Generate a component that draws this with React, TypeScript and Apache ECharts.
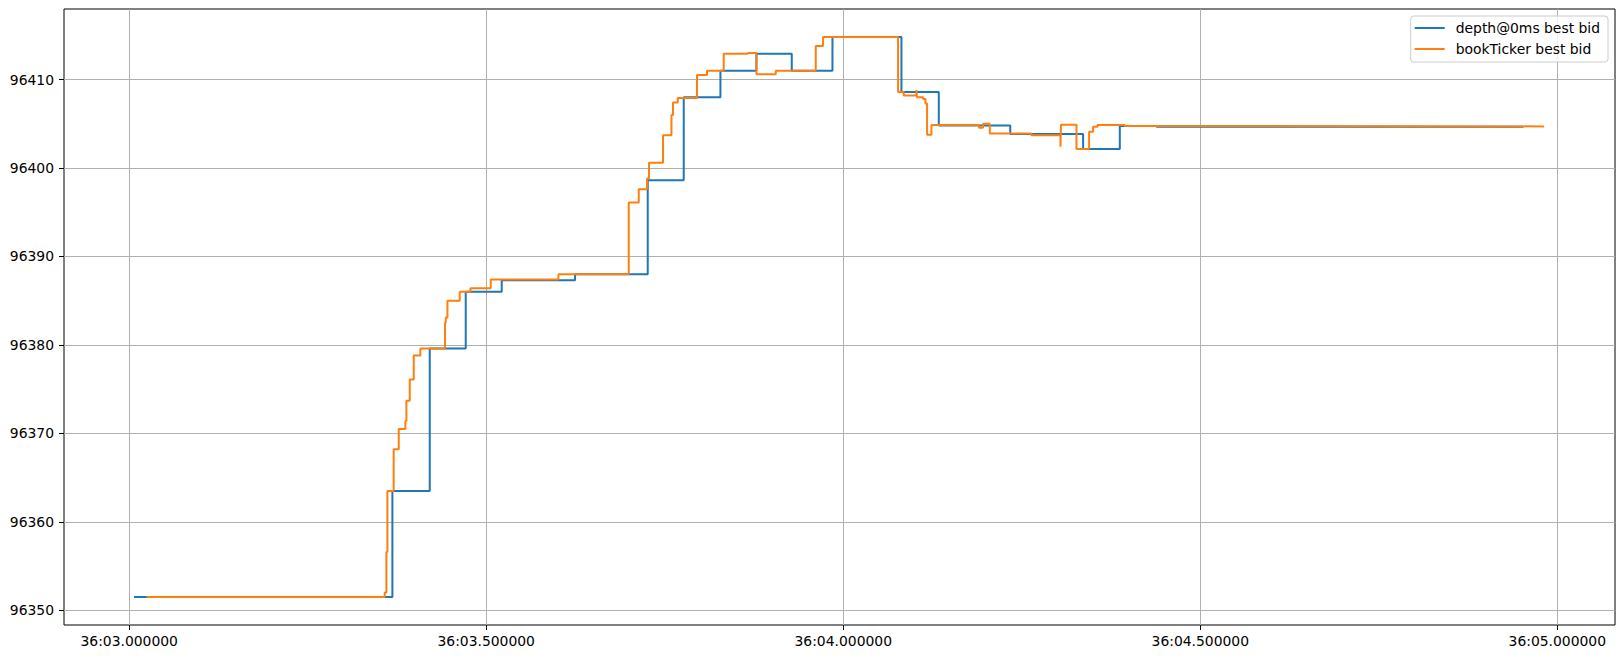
import * as echarts from "echarts"
import { useEffect, useRef } from "react"

// times are seconds after 36:03.000000, values are best bid prices
const depthTimes = [
  0.0067, 0.3686, 0.4209, 0.4713, 0.5217, 0.6244, 0.7262, 0.7766, 0.828, 0.8784, 0.9279, 0.9849,
  1.0815, 1.1338, 1.2339, 1.3359, 1.3873, 1.4387, 1.9521,
]
const depthValues = [
  96351.5, 96363.5, 96379.6, 96386.0, 96387.3, 96388.0, 96398.6, 96408.0, 96411.0, 96412.9, 96411.0,
  96414.8, 96408.6, 96404.8, 96403.85, 96402.15, 96404.75, 96404.65, 96404.65,
]

const tickerTimes = [
  0.0245, 0.3578, 0.3602, 0.3616, 0.3704, 0.3775, 0.3868, 0.3882, 0.3929, 0.3985, 0.4078, 0.4423,
  0.4433, 0.4457, 0.4629, 0.4779, 0.5063, 0.6011, 0.6996, 0.7136, 0.7252, 0.728, 0.7476, 0.7594,
  0.7616, 0.7682, 0.7952, 0.8092, 0.8326, 0.8663, 0.8784, 0.9055, 0.9615, 0.9717, 1.0768, 1.0847,
  1.1025, 1.1032, 1.1118, 1.1151, 1.1174, 1.1235, 1.1902, 1.1958, 1.2052, 1.2636, 1.3042, 1.3049,
  1.3266, 1.3443, 1.3499, 1.356, 1.3943, 1.4387, 1.9815,
]
const tickerValues = [
  96351.5, 96352.0, 96356.6, 96363.5, 96368.2, 96370.5, 96371.4, 96373.7, 96376.1, 96378.8, 96379.6,
  96382.5, 96383.1, 96385.0, 96386.0, 96386.4, 96387.4, 96388.0, 96396.1, 96397.6, 96398.8, 96400.6,
  96403.7, 96406.0, 96407.4, 96407.9, 96410.5, 96411.0, 96412.9, 96413.0, 96410.6, 96411.0, 96413.8,
  96414.8, 96408.6, 96408.2, 96408.8, 96408.0, 96407.8, 96407.3, 96403.75, 96404.85, 96404.55,
  96405.0, 96403.9, 96403.7, 96402.4, 96404.9, 96402.15, 96404.1, 96404.65, 96404.85, 96404.75,
  96404.7, 96404.7,
]

const xTicks = [0, 0.5, 1, 1.5, 2]
const yTicks = [96350, 96360, 96370, 96380, 96390, 96400, 96410]

const seriesNames = ["depth@0ms best bid", "bookTicker best bid"]

const FONT = "DejaVu Sans"

function fmtTime(t: number) {
  const s = 3 + t
  const whole = Math.floor(s + 1e-9)
  const micro = Math.round((s - whole) * 1e6)
  return `36:${String(whole).padStart(2, "0")}.${String(micro).padStart(6, "0")}`
}

export default function App() {
  const ref = useRef<HTMLDivElement>(null)

  useEffect(() => {
    if (!ref.current) return
    const chart = echarts.init(ref.current, null, { renderer: "svg" })

    const depth = depthTimes.map((t, i) => [t, depthValues[i]])
    const ticker = tickerTimes.map((t, i) => [t, tickerValues[i]])

    chart.setOption({
      animation: false,
      backgroundColor: "#fff",
      grid: {
        show: true,
        left: 64,
        top: 9,
        right: 9,
        bottom: 34,
        borderColor: "#000",
        borderWidth: 1,
        backgroundColor: "#fff",
      },
      legend: {
        orient: "vertical",
        right: 16,
        top: 16,
        icon: "rect",
        itemWidth: 30,
        itemHeight: 2,
        itemGap: 5,
        padding: [4, 8, 5, 4],
        backgroundColor: "rgba(255,255,255,0.8)",
        borderColor: "#cccccc",
        borderWidth: 1,
        borderRadius: 3,
        textStyle: { fontFamily: FONT, fontSize: 13.9, color: "#000", lineHeight: 16, padding: [0, 0, 0, 6] },
        data: seriesNames,
      },
      xAxis: {
        type: "value",
        min: -0.0913,
        max: 2.0808,
        axisLine: { show: false, onZero: false },
        axisTick: { show: true, length: 5, customValues: xTicks, lineStyle: { color: "#000" } },
        axisLabel: {
          customValues: xTicks,
          margin: 9,
          fontFamily: FONT,
          fontSize: 13.9,
          color: "#000",
          formatter: (v: number) => fmtTime(v),
        },
        splitLine: { show: true, lineStyle: { color: "#b0b0b0", width: 1 } },
      },
      yAxis: {
        type: "value",
        min: 96348.34,
        max: 96417.97,
        axisLine: { show: false, onZero: false },
        axisTick: { show: true, length: 5, customValues: yTicks, lineStyle: { color: "#000" } },
        axisLabel: {
          customValues: yTicks,
          margin: 10,
          fontFamily: FONT,
          fontSize: 13.9,
          color: "#000",
          formatter: (v: number) => String(Math.round(v)),
        },
        splitLine: { show: true, lineStyle: { color: "#b0b0b0", width: 1 } },
      },
      series: [
        {
          name: seriesNames[0],
          type: "line",
          step: "end",
          data: depth,
          showSymbol: false,
          color: "#1f77b4",
          lineStyle: { width: 2, color: "#1f77b4" },
        },
        {
          name: seriesNames[1],
          type: "line",
          step: "end",
          data: ticker,
          showSymbol: false,
          color: "#ff7f0e",
          lineStyle: { width: 2, color: "#ff7f0e" },
        },
      ],
    })

    return () => chart.dispose()
  }, [])

  return <div ref={ref} style={{ position: "fixed", left: 0, top: 0, width: 1624, height: 659 }} />
}
